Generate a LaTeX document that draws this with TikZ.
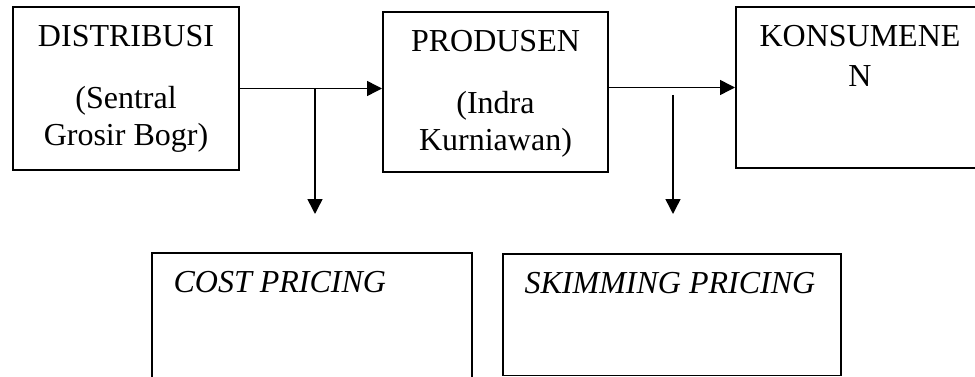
\documentclass[tikz,border=0pt]{standalone}
\usepackage{fontspec}
\setmainfont{Liberation Serif}
\usetikzlibrary{positioning,arrows.meta}

\begin{document}
\begin{tikzpicture}[x=1pt,y=-1pt,
    every node/.style={font=\fontsize{32}{37}\selectfont},
    topbox/.style={draw,line width=2pt,inner sep=0pt},
    lowbox/.style={draw,line width=1.2pt,inner sep=0pt},
    lbl/.style={inner sep=0pt,align=center},
    flow/.style={line width=1.5pt,-{Triangle[length=15pt,width=15pt]}}]
  \useasboundingbox (0,0) rectangle (975,377);
  \clip (0,0) rectangle (975,377);
  % top row
  \node[topbox,minimum width=226pt,minimum height=163pt] (dist) at (126,88.5) {};
  \node[topbox,minimum width=225pt,minimum height=160pt] (prod) at (495.5,92) {};
  \node[topbox,minimum width=248pt,minimum height=161pt] (kons) at (860,87.5) {};
  \node[lbl,below=19pt of dist.north] (distlbl) {DISTRIBUSI\\[25pt](Sentral\\Grosir Bogr)};
  \node[lbl,below=19pt of prod.north] (prodlbl) {PRODUSEN\\[25pt](Indra\\Kurniawan)};
  \node[lbl,below=19pt of kons.north] (konslbl) {KONSUMENE\\[3pt]N};
  % bottom row
  \node[lowbox,minimum width=320pt,minimum height=147pt] (cost) at (312,326.5) {};
  \node[lowbox,minimum width=338pt,minimum height=121.5pt] (skim) at (672,314.75) {};
  \node[lbl,below right=19pt and 22pt of cost.north west] (costlbl) {\itshape COST PRICING};
  \node[lbl,below right=19pt and 22pt of skim.north west] (skimlbl) {\itshape SKIMMING PRICING};
  % flows
  \draw[flow] (dist.east) -- (dist.east -| prod.west);
  \draw[flow] (prod.east |- kons.west) -- (kons.west);
  % branches
  \coordinate (b1) at (315,88.5);
  \coordinate (t1) at (315,214);
  \coordinate (b2) at (673,95);
  \coordinate (t2) at (673,214);
  \draw[flow] (b1) -- (t1);
  \draw[flow] (b2) -- (t2);
\end{tikzpicture}
\end{document}
